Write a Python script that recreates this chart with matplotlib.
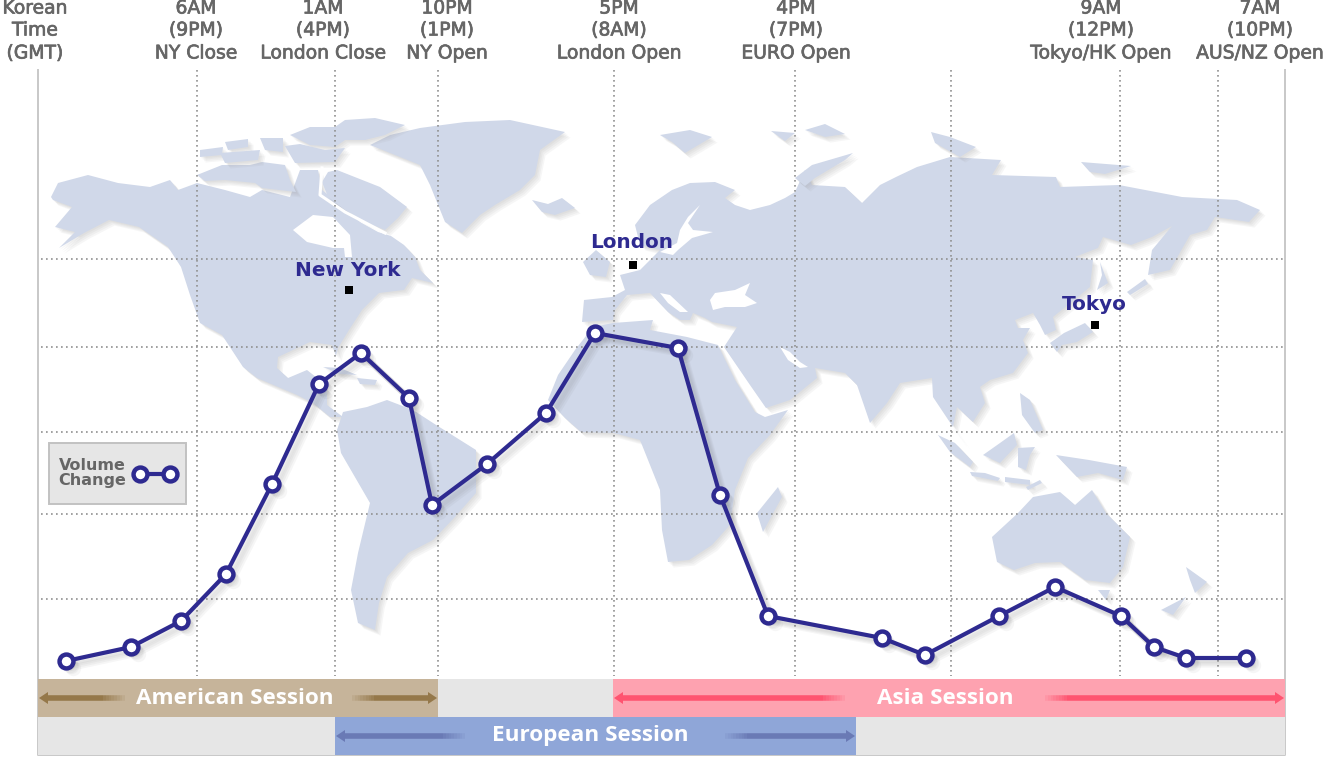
import matplotlib

matplotlib.use("Agg")
import matplotlib.patheffects as pe
import matplotlib.pyplot as plt

# everything in its own pixel grid
VOLUME_X = [66, 131, 181, 226, 272, 319, 361, 409, 432, 487, 546, 595, 678, 720, 768,
            882, 925, 999, 1055, 1121, 1154, 1186, 1246]
VOLUME_Y = [661, 647, 621, 574, 484, 384, 353, 398, 505, 464, 413, 333, 348, 495, 616,
            638, 655, 616, 587, 616, 647, 658, 658]

HOUR_X = [197, 335, 438, 614, 795, 951, 1120, 1218]
LEVEL_Y = [258.5, 347, 432, 514, 599]

HEADER_X = [35, 196, 323, 447, 619, 796, 1101, 1260]
HEADER_TOP = ["Korean", "6AM", "1AM", "10PM", "5PM", "4PM", "9AM", "7AM"]
HEADER_MID = ["Time", "(9PM)", "(4PM)", "(1PM)", "(8AM)", "(7PM)", "(12PM)", "(10PM)"]
HEADER_LOW = ["(GMT)", "NY Close", "London Close", "NY Open", "London Open", "EURO Open",
              "Tokyo/HK Open", "AUS/NZ Open"]

CITY_NAMES = ["New York", "London", "Tokyo"]
CITY_X = [349, 633, 1095]
CITY_Y = [290, 265, 325]
CITY_LABEL_X = [348, 632, 1094]
CITY_LABEL_Y = [271, 242, 304]

NORTH_AMERICA = [(51, 197), (58, 183), (88, 175), (118, 183), (150, 187), (170, 180), (178, 190),
                 (197, 183), (225, 190), (250, 197), (262, 190), (290, 197), (300, 170), (318, 170),
                 (322, 190), (345, 208), (360, 222), (378, 232), (391, 236), (404, 245), (415, 257),
                 (420, 270), (433, 283), (412, 278), (404, 290), (379, 293), (362, 310), (349, 330),
                 (338, 348), (336, 356), (332, 345), (310, 342), (278, 357), (277, 368), (288, 378),
                 (307, 370), (317, 378), (327, 390), (327, 405), (343, 417), (330, 417), (313, 403),
                 (297, 395), (257, 378), (243, 367), (222, 335), (200, 323), (190, 295), (181, 267),
                 (168, 247), (139, 227), (109, 220), (84, 233), (59, 248), (75, 232), (55, 227),
                 (72, 207), (53, 200)]
GREENLAND = [(370, 145), (390, 135), (420, 128), (465, 122), (510, 120), (565, 132), (540, 150),
             (535, 175), (520, 190), (495, 205), (480, 215), (462, 233), (445, 222), (430, 185),
             (420, 165), (395, 155)]
ICELAND = [(532, 200), (548, 204), (562, 198), (575, 208), (555, 215), (542, 212)]
ELLESMERE = [(290, 135), (310, 127), (335, 127), (345, 120), (375, 118), (405, 125), (385, 135),
             (365, 140), (345, 140), (335, 147), (310, 145)]
BAFFIN = [(328, 172), (337, 170), (380, 187), (407, 207), (398, 218), (385, 230), (365, 222),
          (345, 210), (328, 197), (322, 182)]
VICTORIA = [(197, 175), (222, 165), (250, 165), (262, 162), (285, 165), (290, 180), (296, 192),
            (262, 188), (255, 183), (225, 180), (205, 181)]
ARCTIC_A = [(200, 150), (223, 147), (222, 155), (200, 157)]
ARCTIC_B = [(225, 142), (248, 139), (248, 147), (228, 150)]
ARCTIC_C = [(220, 153), (260, 150), (258, 160), (225, 163)]
ARCTIC_D = [(260, 138), (283, 138), (283, 152), (265, 150)]
ARCTIC_E = [(285, 146), (300, 144), (325, 150), (345, 148), (335, 162), (295, 163)]
SOUTH_AMERICA = [(343, 412), (367, 407), (387, 400), (413, 410), (433, 423), (476, 450), (476, 493),
                 (455, 517), (433, 540), (408, 553), (387, 577), (379, 603), (375, 630), (358, 623),
                 (351, 590), (358, 553), (370, 503), (341, 453), (337, 430)]
CUBA = [(323, 367), (340, 368), (357, 375), (340, 374)]
HISPANIOLA = [(357, 378), (377, 380), (375, 385), (360, 384)]
EURASIA = [(582, 322), (584, 300), (612, 297), (625, 290), (620, 275), (640, 270), (648, 262),
           (660, 250), (640, 245), (635, 225), (650, 205), (672, 190), (690, 183), (715, 182),
           (735, 190), (725, 198), (735, 205), (750, 210), (770, 205), (785, 198), (795, 192),
           (805, 170), (812, 185), (845, 187), (862, 203), (880, 185), (896, 177), (917, 167),
           (950, 157), (1001, 160), (992, 175), (1056, 177), (1060, 187), (1119, 185), (1182, 197),
           (1237, 200), (1260, 210), (1249, 222), (1215, 217), (1207, 230), (1190, 235), (1170, 270),
           (1148, 275), (1152, 250), (1172, 226), (1152, 237), (1131, 245), (1103, 237), (1098, 248),
           (1075, 257), (1093, 260), (1090, 287), (1053, 317), (1056, 330), (1045, 335), (1040, 325),
           (1033, 313), (1015, 320), (1018, 328), (1030, 328), (1023, 340), (1028, 353), (1013, 373),
           (990, 380), (980, 387), (985, 403), (973, 422), (957, 407), (953, 427), (967, 447),
           (955, 430), (933, 397), (932, 378), (900, 383), (887, 403), (870, 423), (857, 385),
           (845, 373), (815, 368), (817, 378), (790, 400), (766, 408), (750, 385), (724, 347),
           (737, 327), (712, 322), (705, 318), (693, 313), (690, 320), (680, 320), (668, 312),
           (650, 293), (627, 295), (615, 310), (613, 320)]
AFRICA = [(548, 400), (558, 375), (575, 350), (593, 327), (613, 323), (653, 320), (650, 330),
          (687, 337), (718, 345), (735, 380), (755, 412), (765, 417), (788, 410), (770, 435),
          (748, 458), (735, 490), (730, 525), (712, 545), (689, 560), (668, 562), (662, 530),
          (660, 490), (640, 440), (614, 433), (581, 432), (565, 418)]
BRITAIN = [(583, 262), (596, 250), (610, 262), (606, 277), (590, 275)]
MADAGASCAR = [(757, 513), (778, 487), (782, 497), (763, 532)]
SVALBARD = [(660, 135), (690, 130), (712, 137), (685, 153), (672, 142)]
ZEMLYA = [(795, 178), (812, 165), (853, 153), (845, 160), (815, 178), (805, 186)]
FRANZ_WEST = [(771, 131), (795, 133), (785, 141)]
FRANZ_EAST = [(805, 130), (825, 124), (845, 134), (825, 137)]
SEVERNAYA = [(931, 132), (950, 137), (976, 147), (960, 157), (935, 143)]
SIBERIAN = [(1081, 162), (1131, 166), (1105, 174), (1090, 172)]
SAKHALIN = [(1100, 262), (1108, 283), (1097, 290), (1102, 275)]
KURIL = [(1127, 292), (1145, 279), (1148, 284), (1130, 295)]
JAPAN = [(1064, 333), (1085, 323), (1093, 332), (1077, 342), (1062, 345), (1057, 352), (1050, 343)]
SUMATRA = [(938, 435), (955, 443), (973, 462), (970, 467), (950, 452)]
BORNEO = [(983, 455), (1000, 443), (1014, 433), (1017, 445), (1000, 463)]
JAVA = [(970, 472), (985, 473), (1000, 478), (998, 481), (972, 476)]
SULAWESI = [(1018, 448), (1035, 447), (1030, 455), (1026, 470), (1018, 467)]
PHILIPPINES = [(1020, 393), (1030, 400), (1043, 430), (1035, 433), (1022, 415)]
NEW_GUINEA = [(1056, 455), (1089, 460), (1127, 467), (1123, 480), (1098, 473), (1077, 477)]
SUNDA = [(1005, 477), (1030, 480), (1030, 485), (1005, 482)]
TIMOR = [(1026, 487), (1040, 480), (1042, 483), (1028, 490)]
AUSTRALIA = [(992, 537), (1018, 513), (1033, 497), (1060, 492), (1075, 505), (1092, 490), (1106, 513),
             (1130, 537), (1123, 567), (1110, 583), (1085, 580), (1060, 562), (1035, 563), (1014, 570),
             (997, 562)]
TASMANIA = [(1098, 590), (1110, 590), (1106, 600)]
NZ_NORTH = [(1186, 567), (1207, 582), (1195, 593), (1190, 580)]
NZ_SOUTH = [(1161, 610), (1186, 597), (1173, 615)]

LAND = [NORTH_AMERICA, GREENLAND, ICELAND, ELLESMERE, BAFFIN, VICTORIA, ARCTIC_A, ARCTIC_B, ARCTIC_C,
        ARCTIC_D, ARCTIC_E, SOUTH_AMERICA, CUBA, HISPANIOLA, EURASIA, AFRICA, BRITAIN, MADAGASCAR,
        SVALBARD, ZEMLYA, FRANZ_WEST, FRANZ_EAST, SEVERNAYA, SIBERIAN, SAKHALIN, KURIL, JAPAN, SUMATRA,
        BORNEO, JAVA, SULAWESI, PHILIPPINES, NEW_GUINEA, SUNDA, TIMOR, AUSTRALIA, TASMANIA, NZ_NORTH,
        NZ_SOUTH]

HUDSON_BAY = [(293, 230), (313, 215), (333, 217), (350, 235), (352, 257), (345, 257), (344, 248),
              (333, 248), (307, 242)]
BALTIC = [(660, 252), (677, 243), (680, 230), (688, 217), (700, 205), (688, 223), (693, 230),
          (713, 232), (692, 238), (678, 250), (673, 255)]
BLACK_SEA = [(710, 300), (715, 293), (735, 290), (750, 283), (745, 295), (757, 303), (745, 307),
             (725, 307), (713, 310)]
ADRIATIC = [(660, 293), (670, 295), (688, 312), (680, 312), (668, 303)]
RED_GULF = [(780, 347), (790, 352), (800, 362), (808, 367), (800, 368), (788, 360)]
SEAS = [HUDSON_BAY, BALTIC, BLACK_SEA, ADRIATIC, RED_GULF]

STRAIT_X = [322, 320, 345, 385]
STRAIT_Y = [168, 195, 212, 233]

SESSION_NAMES = ["American Session", "Asia Session", "European Session"]
SESSION_START = [38, 613, 335]
SESSION_END = [438, 1285, 856]
SESSION_ROW = [679, 679, 717]
SESSION_COLORS = ["#c6b49a", "#fea2b0", "#8fa6d8"]
ARROW_COLORS = ["#95784a", "#ff5470", "#6a7ab5"]
ARROW_INNER_LEFT = [125, 845, 465]
ARROW_INNER_RIGHT = [352, 1045, 725]
SESSION_TEXT_X = [235, 945, 590]

INK = "#2e2a90"
GREY_TEXT = "#666666"


def draw_arrow(ax, tip, tail, y, color):
    # solid shaft and head, then a short fade towards the label
    step = 1 if tail > tip else -1
    fade = 22 * step
    ax.plot([tip + 8 * step, tail - fade], [y, y], color=color, lw=4, solid_capstyle="butt", zorder=4)
    ax.fill([tip, tip + 9 * step, tip + 9 * step], [y, y - 6, y + 6], color=color, lw=0, zorder=4)
    for i in range(8):
        start = tail - fade + i * fade / 8
        ax.plot([start, start + fade / 8], [y, y], color=color, lw=4, alpha=0.85 - i * 0.1,
                solid_capstyle="butt", zorder=4)


fig = plt.figure(figsize=(13.25, 7.58), dpi=100)
ax = fig.add_axes([0, 0, 1, 1])
ax.set_xlim(0, 1325)
ax.set_ylim(758, 0)
ax.axis("off")

# stacked faint shadows read softer than a single hard one
shadow = [pe.SimplePatchShadow(offset=(off, -off), shadow_rgbFace="#a0a0a0", alpha=0.09) for off in (4, 3, 2, 1)]
shadow.append(pe.Normal())
for outline in LAND:
    xs, ys = zip(*outline)
    ax.fill(xs, ys, color="#d0d8e9", lw=0, zorder=1, path_effects=shadow)
for outline in SEAS:
    xs, ys = zip(*outline)
    ax.fill(xs, ys, color="white", lw=0, zorder=1.2)
ax.plot(STRAIT_X, STRAIT_Y, color="white", lw=2.2, zorder=1.2)

for x in HOUR_X:
    ax.plot([x, x], [70, 676], color="#909090", lw=1.2, ls=(0, (1, 2)), zorder=2)
for y in LEVEL_Y:
    ax.plot([41, 1283], [y, y], color="#909090", lw=1.2, ls=(0, (1, 2)), zorder=2)

ax.plot([38, 38, 1285, 1285], [70, 755, 755, 70], color="#c8c8c8", lw=1.4, zorder=2)
ax.fill_between([38, 1285], 679, 755, color="#e6e6e6", lw=0, zorder=2.5)

for i, name in enumerate(SESSION_NAMES):
    top = SESSION_ROW[i]
    ax.fill_between([SESSION_START[i], SESSION_END[i]], top, top + 38, color=SESSION_COLORS[i], lw=0, zorder=3)
    mid = top + 19
    draw_arrow(ax, SESSION_START[i] + 1, ARROW_INNER_LEFT[i], mid, ARROW_COLORS[i])
    draw_arrow(ax, SESSION_END[i] - 1, ARROW_INNER_RIGHT[i], mid, ARROW_COLORS[i])
    ax.text(SESSION_TEXT_X[i], mid, name, color="white", fontsize=16.2, fontweight="bold", family="Open Sans",
            ha="center", va="center", zorder=5)

heavier = [pe.withStroke(linewidth=0.5, foreground=GREY_TEXT)]
for x, top, mid, low in zip(HEADER_X, HEADER_TOP, HEADER_MID, HEADER_LOW):
    for y, text in zip([8, 30, 53], [top, mid, low]):
        ax.text(x, y, text, color=GREY_TEXT, fontsize=13.5, family="DejaVu Sans",
                ha="center", va="center", zorder=5, path_effects=heavier)

ax.plot(CITY_X, CITY_Y, ls="none", marker="s", ms=5.8, color="black", mew=0, zorder=5)
for name, x, y in zip(CITY_NAMES, CITY_LABEL_X, CITY_LABEL_Y):
    ax.text(x, y, name, color=INK, fontsize=14.4, fontweight="bold", family="DejaVu Sans",
            ha="center", va="center", zorder=5)

# soft line shadow: a few faint offset copies underneath
for off in (2, 3.5, 5, 6.5):
    ax.plot([x + off for x in VOLUME_X], [y + off for y in VOLUME_Y], color="#555555", alpha=0.05, lw=4.5,
            marker="o", ms=11, mew=0, zorder=5.5)
ax.plot(VOLUME_X, VOLUME_Y, color=INK, lw=3, marker="o", ms=10, mfc="white", mec=INK, mew=3.2, zorder=6)

ax.add_patch(plt.Rectangle((49, 443), 137, 61, fc="#e6e6e6", ec="#c2c2c2", lw=1.4, zorder=3))
ax.text(92, 473, "Volume\nChange", color=GREY_TEXT, fontsize=11.5, fontweight="bold", family="DejaVu Sans",
        ha="center", va="center", linespacing=1.0, zorder=5)
ax.plot([140, 170], [474, 474], color=INK, lw=3, marker="o", ms=10, mfc="white", mec=INK, mew=3.2, zorder=6)

fig.savefig("out.png", dpi=100)
